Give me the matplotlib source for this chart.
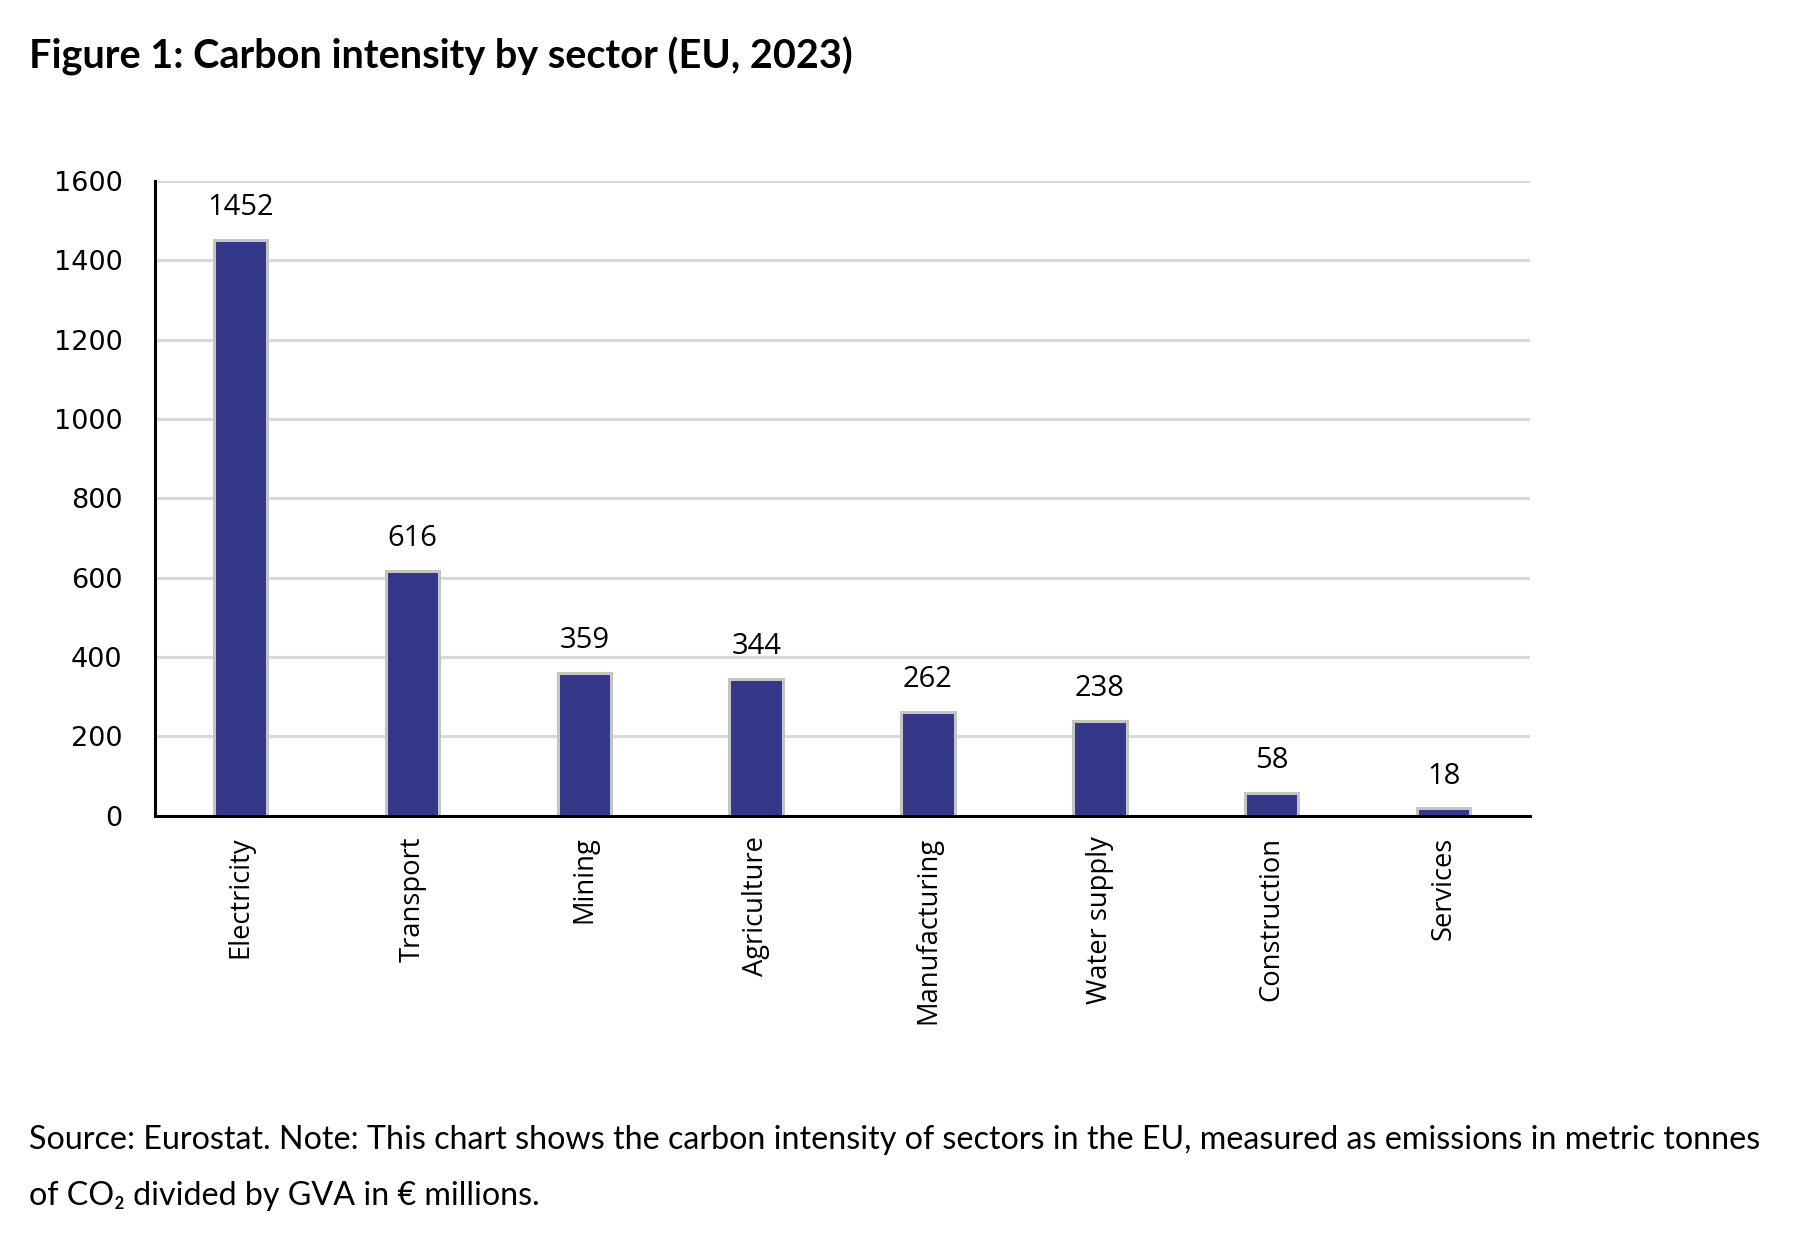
import matplotlib.pyplot as plt

# data
sectors = ['Electricity', 'Transport', 'Mining', 'Agriculture',
           'Manufacturing', 'Water supply', 'Construction', 'Services']
intensity = [1452, 616, 359, 344, 262, 238, 58, 18]
y_ticks = [0, 200, 400, 600, 800, 1000, 1200, 1400, 1600]

title = 'Figure 1: Carbon intensity by sector (EU, 2023)'
note_1 = ('Source: Eurostat. Note: This chart shows the carbon intensity of sectors in the EU, '
          'measured as emissions in metric tonnes')
note_2 = 'of CO\u2082 divided by GVA in \u20ac millions.'

narrow = ['Lato', 'DejaVu Sans']

fig = plt.figure(figsize=(18.08, 12.48), dpi=100)
ax = fig.add_axes([0.0855, 0.3465, 0.7605, 0.5085])

x = range(len(sectors))
ax.bar(x, intensity, width=0.31, color='#333787', edgecolor='#c4c4c4',
       linewidth=2.2, zorder=3)
for xi, v in zip(x, intensity):
    ax.text(xi, v + 45, str(v), ha='center', va='bottom', fontsize=21,
            family='Open Sans', color='black')

ax.set_xlim(-0.5, len(sectors) - 0.5)
ax.set_ylim(0, 1600)
ax.set_yticks(y_ticks)
ax.set_yticklabels([str(t) for t in y_ticks], fontsize=19.5, family='DejaVu Sans')
ax.set_xticks(list(x))
ax.set_xticklabels(sectors, rotation=90, fontsize=19.7, family='Open Sans')
ax.tick_params(axis='both', length=0)
ax.tick_params(axis='y', pad=23)
ax.tick_params(axis='x', pad=15)

ax.grid(axis='y', color='#d9d9d9', linewidth=2.2, zorder=0)
ax.set_axisbelow(True)
for s in ['top', 'right']:
    ax.spines[s].set_visible(False)
for s in ['left', 'bottom']:
    ax.spines[s].set_linewidth(2.2)
    ax.spines[s].set_zorder(4)

fig.text(0.016, 0.955, title, fontsize=28.5, fontweight='bold', family=narrow,
         va='center', ha='left')
fig.text(0.016, 0.0865, note_1, fontsize=23.2, family=narrow, va='center', ha='left')
fig.text(0.016, 0.0415, note_2, fontsize=23.2, family=narrow, va='center', ha='left')

fig.savefig('out.png', dpi=100)
